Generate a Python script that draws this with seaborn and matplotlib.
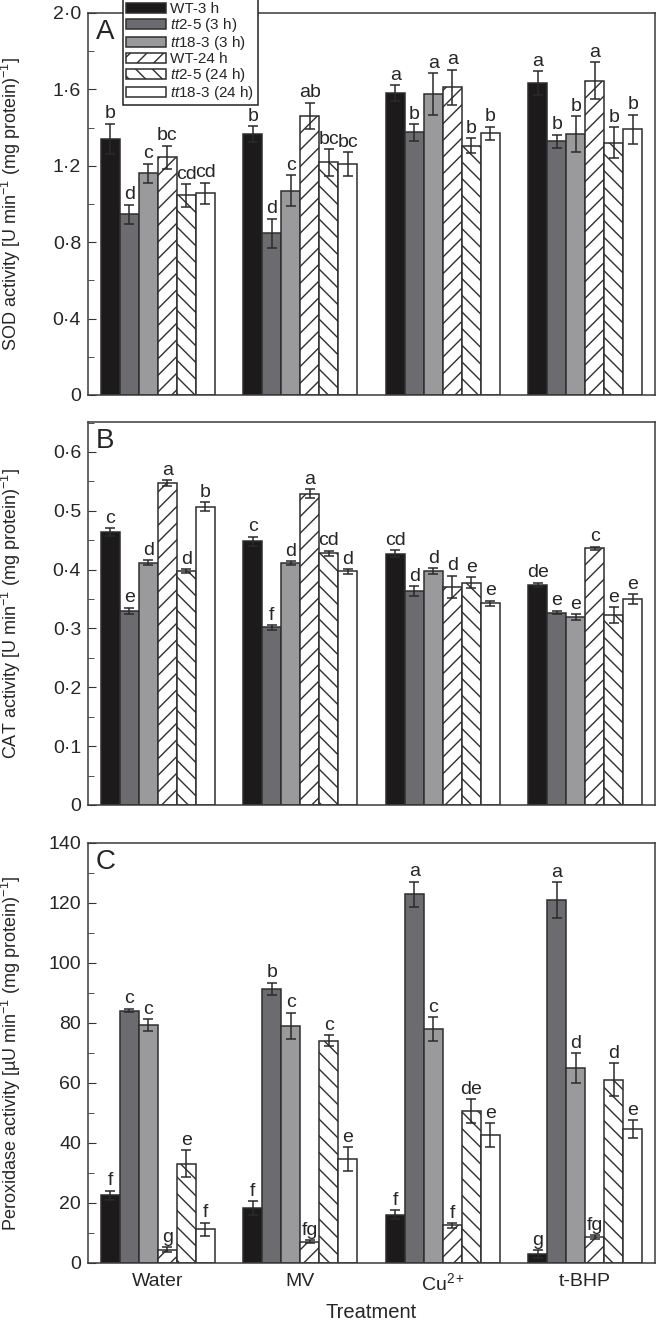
import numpy as np
import pandas as pd
import matplotlib
matplotlib.use("Agg")
import matplotlib.pyplot as plt
from matplotlib.patches import Patch, Rectangle
from matplotlib.ticker import MultipleLocator, FuncFormatter
import seaborn as sns

treatments = ["Water", "MV", "Cu$^{2+}$", "t-BHP"]
lines = ["WT-3 h", "tt2-5 (3 h)", "tt18-3 (3 h)", "WT-24 h", "tt2-5 (24 h)", "tt18-3 (24 h)"]
legend_labels = ["WT-3 h", r"$\mathit{tt2}$-5 (3 h)", r"$\mathit{tt18}$-3 (3 h)",
                 "WT-24 h", r"$\mathit{tt2}$-5 (24 h)", r"$\mathit{tt18}$-3 (24 h)"]

# rows = lines, columns = treatments
sod_mean = [[1.34, 1.366, 1.581, 1.633],
            [0.946, 0.846, 1.375, 1.328],
            [1.16, 1.07, 1.576, 1.365],
            [1.245, 1.46, 1.61, 1.646],
            [1.045, 1.218, 1.305, 1.321],
            [1.057, 1.207, 1.37, 1.39]]
sod_err = [[0.08, 0.04, 0.04, 0.063],
           [0.05, 0.077, 0.043, 0.035],
           [0.05, 0.08, 0.108, 0.094],
           [0.06, 0.07, 0.094, 0.096],
           [0.06, 0.07, 0.04, 0.08],
           [0.055, 0.063, 0.035, 0.078]]
sod_letters = [["b", "b", "a", "a"],
               ["d", "d", "b", "b"],
               ["c", "c", "a", "b"],
               ["bc", "ab", "a", "a"],
               ["cd", "bc", "b", "b"],
               ["cd", "bc", "b", "b"]]

cat_mean = [[0.464, 0.448, 0.427, 0.374],
            [0.330, 0.302, 0.364, 0.327],
            [0.412, 0.411, 0.397, 0.319],
            [0.547, 0.529, 0.371, 0.436],
            [0.398, 0.428, 0.378, 0.323],
            [0.507, 0.397, 0.343, 0.350]]
cat_err = [[0.006, 0.008, 0.006, 0.0035],
           [0.005, 0.004, 0.008, 0.003],
           [0.004, 0.003, 0.005, 0.005],
           [0.005, 0.008, 0.019, 0.003],
           [0.003, 0.004, 0.009, 0.013],
           [0.008, 0.004, 0.0045, 0.008]]
cat_letters = [["c", "c", "cd", "de"],
               ["e", "f", "d", "e"],
               ["d", "d", "d", "e"],
               ["a", "a", "d", "c"],
               ["d", "cd", "e", "e"],
               ["b", "d", "e", "e"]]

pox_mean = [[22.5, 18.2, 16.0, 3.0],
            [84.1, 91.4, 122.9, 121.0],
            [79.2, 79.1, 77.9, 65.0],
            [4.4, 7.0, 12.5, 8.6],
            [33.0, 74.1, 50.5, 61.0],
            [11.2, 34.5, 42.5, 44.5]]
pox_err = [[1.6, 2.3, 1.5, 1.3],
           [0.6, 2.0, 4.2, 6.0],
           [2.0, 4.3, 4.0, 5.0],
           [0.8, 0.5, 0.7, 0.6],
           [4.5, 1.8, 4.0, 5.5],
           [2.2, 4.0, 4.0, 3.0]]
pox_letters = [["f", "f", "f", "g"],
               ["c", "b", "a", "a"],
               ["c", "c", "c", "d"],
               ["g", "fg", "f", "fg"],
               ["e", "c", "de", "d"],
               ["f", "e", "e", "e"]]

colors = ["#1c1a1b", "#6c6c70", "#9a9a9c", "white", "white", "white"]
hatches = ["", "", "", "//", "\\\\", ""]
edge = "#2e2e2e"

sns.set_style("white")
plt.rcParams["font.family"] = ["Liberation Sans", "DejaVu Sans"]
plt.rcParams["mathtext.fontset"] = "custom"
plt.rcParams["mathtext.rm"] = "Liberation Sans"
plt.rcParams["mathtext.it"] = "Liberation Sans:italic"
plt.rcParams["hatch.linewidth"] = 1.0
plt.rcParams["hatch.color"] = edge


def dot_fmt(v, pos):
    if abs(v) < 1e-9:
        return "0"
    return f"{v:.1f}".replace(".", "\u00b7")


def panel(ax, mean, err, letters, ylim, major, ylabel, tag, fmt):
    df = pd.DataFrame([(treatments[j], lines[i], mean[i][j])
                       for i in range(len(lines)) for j in range(len(treatments))],
                      columns=["treatment", "line", "value"])
    sns.barplot(data=df, x="treatment", y="value", hue="line", order=treatments,
                hue_order=lines, palette=colors, saturation=1, errorbar=None,
                width=0.8, edgecolor=edge, linewidth=1.1, legend=False, ax=ax)
    bars = [p for p in ax.patches if isinstance(p, Rectangle) and p.get_width() > 0]
    bars.sort(key=lambda b: b.get_x())
    nl = len(lines)
    for k, bar in enumerate(bars):
        j, i = k // nl, k % nl
        bar.set_hatch(hatches[i])
        bar.set_edgecolor(edge)
        x = bar.get_x() + bar.get_width() / 2
        h = bar.get_height()
        ax.errorbar(x, h, yerr=err[i][j], color="#2a2a2a", elinewidth=1.1,
                    capsize=3.5, capthick=1.1, fmt="none", zorder=4)
        ax.annotate(letters[i][j], (x, h + err[i][j]), xytext=(0, 1),
                    textcoords="offset points", ha="center", va="bottom",
                    fontsize=14)
    ax.set_xlim(-0.49, 3.49)
    ax.set_ylim(*ylim)
    ax.yaxis.set_major_locator(MultipleLocator(major))
    ax.yaxis.set_minor_locator(MultipleLocator(major / 2))
    ax.yaxis.set_major_formatter(FuncFormatter(fmt))
    ax.tick_params(axis="y", which="both", direction="in", left=True, labelsize=14,
                   color="#333333", pad=5)
    ax.tick_params(axis="y", which="major", length=6)
    ax.tick_params(axis="y", which="minor", length=4)
    ax.tick_params(axis="x", length=0, labelsize=14, pad=7)
    ax.set_ylabel(ylabel, fontsize=13)
    ax.yaxis.set_label_coords(-0.115, 0.5)
    ax.set_xlabel("")
    for s in ax.spines.values():
        s.set_color("#3a3a3a")
        s.set_linewidth(1.1)
    ax.text(0.014, 0.985, tag, transform=ax.transAxes, fontsize=20, va="top", ha="left")


fig = plt.figure(figsize=(6.64, 13.24), dpi=100)
L, W = 0.1325, 0.8539
ax_a = fig.add_axes([L, 0.7017, W, 0.2885])
ax_b = fig.add_axes([L, 0.3920, W, 0.2893])
ax_c = fig.add_axes([L, 0.0461, W, 0.3172])

panel(ax_a, sod_mean, sod_err, sod_letters, (0, 2.0), 0.4,
      r"SOD activity [U min$^{-1}$ (mg protein)$^{-1}$]", "A", dot_fmt)
panel(ax_b, cat_mean, cat_err, cat_letters, (0, 0.651), 0.1,
      r"CAT activity [U min$^{-1}$ (mg protein)$^{-1}$]", "B", dot_fmt)
panel(ax_c, pox_mean, pox_err, pox_letters, (0, 140), 20,
      "Peroxidase activity [\u00b5U min$^{-1}$ (mg protein)$^{-1}$]", "C",
      lambda v, p: f"{v:.0f}")

ax_a.set_xticklabels([])
ax_b.set_xticklabels([])
ax_c.set_xlabel("Treatment", fontsize=14.5, labelpad=6)

handles = [Patch(facecolor=colors[i], edgecolor=edge, hatch=hatches[i], linewidth=1.1)
           for i in range(len(lines))]
leg = ax_a.legend(handles, legend_labels, loc="upper left",
                  bbox_to_anchor=(0.062, 1.036), fontsize=11, frameon=True,
                  fancybox=False, edgecolor="#222222", framealpha=1,
                  handlelength=2.6, handleheight=0.65, labelspacing=0.0,
                  handletextpad=0.3, borderpad=0.2, borderaxespad=0)
leg.get_frame().set_linewidth(1.1)
leg.set_zorder(10)

fig.savefig("out.png", dpi=100)
